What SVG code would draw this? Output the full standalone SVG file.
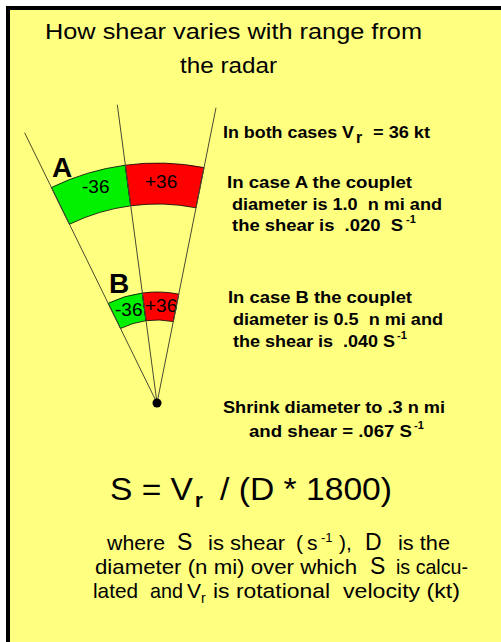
<svg xmlns="http://www.w3.org/2000/svg" width="501" height="642" viewBox="0 0 501 642">
<style>
text{font-family:"Liberation Sans",Arial,sans-serif;fill:#000;white-space:pre}
.t{font-size:22px}
.b{font-size:16px;font-weight:bold}
.sup{font-size:11px;font-weight:bold}
.n{font-size:19px}
.big{font-size:28px;font-weight:bold}
.f{font-size:31px}
.w{font-size:21px}
.ws{font-size:13px}
.ray{stroke:#4a4a30;stroke-width:1;fill:none}
.sec{stroke:#000;stroke-width:0.8}
</style>
<rect x="6" y="6" width="500" height="640" fill="#000"/>
<rect x="10" y="10" width="495" height="635" fill="#FFFF80"/>
<g id="title">
<text class="t" x="45" y="39" textLength="377" lengthAdjust="spacingAndGlyphs">How shear varies with range from</text>
<text class="t" x="180" y="73" textLength="97" lengthAdjust="spacingAndGlyphs">the radar</text>
</g>
<g id="caseA">
<path class="sec" fill="#00F000" d="M51.4,187.5 A240,240 0 0 1 125.3,165.2 L130.7,205.8 A199,199 0 0 0 69.4,224.3 Z"/>
<path class="sec" fill="#FF0000" d="M125.3,165.2 A240,240 0 0 1 204,167.6 L196,207.8 A199,199 0 0 0 130.7,205.8 Z"/>
<text class="n" x="82" y="193">-36</text>
<text class="n" x="145" y="188">+36</text>
<text class="big" x="52" y="177">A</text>
</g>
<g id="caseB">
<path class="sec" fill="#00F000" d="M108.2,303.3 A111,111 0 0 1 142.3,293 L146,320.7 A83,83 0 0 0 120.5,328.5 Z"/>
<path class="sec" fill="#FF0000" d="M142.3,293 A111,111 0 0 1 178.8,294.1 L173.3,321.6 A83,83 0 0 0 146,320.7 Z"/>
<text class="n" x="115" y="316">-36</text>
<text class="n" x="145" y="312">+36</text>
<text class="big" x="109" y="293">B</text>
</g>
<g id="connectors">
<line class="ray" x1="157" y1="403" x2="24.6" y2="132.7"/>
<line class="ray" x1="157" y1="403" x2="117.3" y2="104.7"/>
<line class="ray" x1="157" y1="403" x2="216" y2="107.7"/>
</g>
<g id="radar">
<circle cx="157" cy="403" r="4.5" fill="#000"/>
</g>
<g id="notes">
<text class="b" x="223" y="138" textLength="131" lengthAdjust="spacingAndGlyphs">In both cases V</text>
<text class="b" x="356" y="143">r</text>
<text class="b" x="373" y="138" textLength="57" lengthAdjust="spacingAndGlyphs">= 36 kt</text>
<text class="b" x="227" y="188" textLength="185" lengthAdjust="spacingAndGlyphs">In case A the couplet</text>
<text class="b" x="232" y="210" textLength="210" lengthAdjust="spacingAndGlyphs">diameter is 1.0  n mi and</text>
<text class="b" x="232" y="231" textLength="171" lengthAdjust="spacingAndGlyphs">the shear is  .020  S</text>
<text class="sup" x="406" y="223">-1</text>
<text class="b" x="228" y="303" textLength="184" lengthAdjust="spacingAndGlyphs">In case B the couplet</text>
<text class="b" x="233" y="325" textLength="210" lengthAdjust="spacingAndGlyphs">diameter is 0.5  n mi and</text>
<text class="b" x="233" y="347" textLength="162" lengthAdjust="spacingAndGlyphs">the shear is  .040 S</text>
<text class="sup" x="397" y="339">-1</text>
<text class="b" x="223" y="413" textLength="222" lengthAdjust="spacingAndGlyphs">Shrink diameter to .3 n mi</text>
<text class="b" x="249" y="437" textLength="163" lengthAdjust="spacingAndGlyphs">and shear = .067 S</text>
<text class="sup" x="414" y="429">-1</text>
</g>
<g id="formula">
<text class="f" x="110" y="500" textLength="83" lengthAdjust="spacingAndGlyphs">S = V</text>
<text class="f" x="195" y="507" style="font-size:20px;font-weight:bold">r</text>
<text class="f" x="220" y="500" textLength="172" lengthAdjust="spacingAndGlyphs">/ (D * 1800)</text>
</g>
<g id="legend">
<text class="w" x="107" y="550" textLength="58" lengthAdjust="spacingAndGlyphs">where</text>
<text class="w" x="177" y="550" style="font-size:23px">S</text>
<text class="w" x="208" y="550" textLength="77" lengthAdjust="spacingAndGlyphs">is shear</text>
<text class="w" x="296" y="550">(</text>
<text class="w" x="307" y="550">s</text>
<text class="ws" x="321" y="542">-1</text>
<text class="w" x="339" y="550">),</text>
<text class="w" x="365" y="550" style="font-size:23px">D</text>
<text class="w" x="398" y="550" textLength="52" lengthAdjust="spacingAndGlyphs">is the</text>
<text class="w" x="95" y="574" textLength="262" lengthAdjust="spacingAndGlyphs">diameter (n mi) over which</text>
<text class="w" x="370" y="574" style="font-size:23px">S</text>
<text class="w" x="396" y="574" textLength="72" lengthAdjust="spacingAndGlyphs">is calcu-</text>
<text class="w" x="93" y="598" textLength="45" lengthAdjust="spacingAndGlyphs">lated</text>
<text class="w" x="150" y="598" textLength="33" lengthAdjust="spacingAndGlyphs">and</text>
<text class="w" x="187" y="598">V</text>
<text class="ws" x="201" y="603" style="font-size:14px">r</text>
<text class="w" x="213" y="598" textLength="117" lengthAdjust="spacingAndGlyphs">is rotational</text>
<text class="w" x="343" y="598" textLength="117" lengthAdjust="spacingAndGlyphs">velocity (kt)</text>
</g>
</svg>
